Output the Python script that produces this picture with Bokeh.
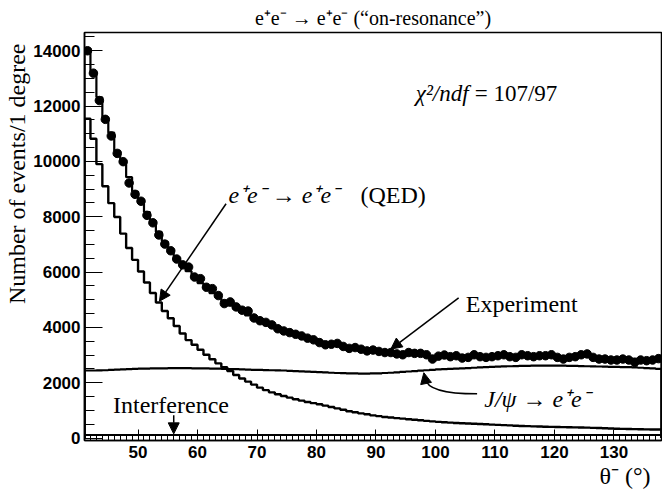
import numpy as np
from bokeh.plotting import figure
from bokeh.models import (Label, Arrow, NormalHead, SingleIntervalTicker, Range1d, Title)
from bokeh.embed import file_html
from bokeh.resources import INLINE

# ---------------- data ----------------
bin_lo = 41
bin_hi = 138

experiment = [
    14000, 13190, 12200, 11520, 10920, 10290, 9990, 9220, 8810, 8560,
    8050, 7780, 7340, 7010, 6770, 6470, 6260, 6180, 5820, 5760,
    5450, 5400, 5150, 4860, 4920, 4740, 4620, 4590, 4340, 4240,
    4180, 4090, 3950, 3870, 3810, 3750, 3690, 3610, 3550, 3450,
    3370, 3390, 3420, 3310, 3240, 3270, 3210, 3150, 3180, 3130,
    3090, 3090, 3040, 3010, 3090, 3060, 3060, 3010, 2855, 2960,
    3000, 2940, 2975, 2890, 2915, 3010, 2940, 2915, 2940, 2975,
    3010, 2940, 2915, 3010, 2975, 2940, 2975, 2975, 3010, 2915,
    2855, 2915, 2940, 3010, 3040, 2915, 2855, 2855, 2820, 2820,
    2855, 2820, 2735, 2820, 2795, 2820, 2870,
]

total_fit = [
    14090, 13210, 12320, 11580, 11040, 10380, 10020, 9430, 8910, 8630,
    8170, 7840, 7450, 7100, 6800, 6520, 6260, 6030, 5810, 5600,
    5420, 5240, 5080, 4930, 4790, 4660, 4540, 4430, 4320, 4220,
    4130, 4040, 3960, 3880, 3810, 3740, 3680, 3610, 3550, 3490,
    3440, 3390, 3340, 3300, 3260, 3220, 3180, 3150, 3120, 3090,
    3070, 3050, 3030, 3010, 3000, 2990, 2980, 2970, 2965, 2960,
    2955, 2950, 2950, 2945, 2945, 2945, 2945, 2945, 2950, 2950,
    2955, 2955, 2960, 2960, 2965, 2965, 2965, 2965, 2965, 2960,
    2960, 2955, 2950, 2945, 2940, 2930, 2920, 2910, 2900, 2890,
    2880, 2870, 2860, 2850, 2840, 2830, 2820,
]

qed = [
    11540, 10820, 9900, 9100, 8490, 7990, 7390, 6870, 6440, 6020,
    5620, 5240, 4900, 4590, 4330, 4050, 3780, 3540, 3370, 3190,
    3010, 2850, 2700, 2560, 2420, 2280, 2150, 2040, 1930, 1820,
    1730, 1650, 1580, 1520, 1460, 1400, 1350, 1300, 1260, 1220,
    1170, 1120, 1070, 1020, 970, 930, 890, 860, 820, 790,
    760, 740, 720, 700, 680, 660, 640, 620, 600, 585,
    570, 555, 545, 535, 525, 515, 505, 495, 485, 475,
    465, 455, 445, 435, 428, 421, 414, 408, 402, 397,
    392, 388, 384, 380, 375, 368, 360, 352, 344, 336,
    330, 325, 320, 316, 312, 308, 305,
]

jpsi = [
    2440, 2440, 2445, 2450, 2460, 2470, 2480, 2490, 2500, 2505,
    2510, 2515, 2520, 2520, 2525, 2525, 2525, 2525, 2520, 2520,
    2515, 2510, 2505, 2500, 2495, 2490, 2480, 2475, 2465, 2460,
    2455, 2450, 2445, 2440, 2430, 2420, 2410, 2400, 2390, 2380,
    2370, 2360, 2350, 2345, 2340, 2335, 2330, 2330, 2335, 2340,
    2350, 2360, 2375, 2390, 2405, 2420, 2435, 2450, 2465, 2480,
    2490, 2500, 2510, 2520, 2530, 2540, 2550, 2560, 2570, 2580,
    2590, 2595, 2600, 2605, 2610, 2615, 2620, 2620, 2620, 2620,
    2615, 2610, 2605, 2600, 2595, 2590, 2585, 2580, 2575, 2570,
    2565, 2560, 2550, 2540, 2530, 2520, 2500,
]

interference = [110] * 97

x_ticks_major = 10
y_ticks_major = 2000

# ---------------- helpers ----------------
edges = np.arange(bin_lo, bin_hi + 1)
centers = edges[:-1] + 0.5


def step_xy(vals):
    v = np.asarray(vals, dtype=float)
    xs = np.concatenate([[edges[0]], np.repeat(edges, 2)[1:-1], [edges[-1]]])
    ys = np.concatenate([[0.0], np.repeat(v, 2), [0.0]])
    return xs, ys


serif = "Liberation Serif"

p = figure(width=662, height=489, output_backend="svg", toolbar_location=None,
           x_range=Range1d(41, 138), y_range=Range1d(-90, 14660),
           min_border_left=83, min_border_right=1, min_border_top=29,
           min_border_bottom=49,
           title="e⁺e⁻ → e⁺e⁻ (“on-resonance”)")
p.title.text_font = serif
p.title.text_font_style = "normal"
p.title.text_font_size = "20px"
p.title.align = "center"
p.title.standoff = 8
p.title.text_color = "black"

p.background_fill_color = "white"
p.border_fill_color = "white"
p.outline_line_color = "black"
p.outline_line_width = 1.5
p.xgrid.visible = False
p.ygrid.visible = False

p.xaxis.ticker = SingleIntervalTicker(interval=x_ticks_major, num_minor_ticks=10)
p.yaxis.ticker = SingleIntervalTicker(interval=y_ticks_major, num_minor_ticks=4)
for ax in (p.xaxis, p.yaxis):
    ax.axis_line_color = "black"
    ax.axis_line_width = 1.5
    ax.major_tick_out = 0
    ax.minor_tick_out = 0
    ax.major_tick_line_color = "black"
    ax.minor_tick_line_color = "black"
    ax.major_label_text_font = "Liberation Sans"
    ax.major_label_text_font_style = "bold"
    ax.major_label_text_font_size = "17px"
    ax.major_label_text_color = "black"
p.xaxis.major_tick_in = 11
p.xaxis.minor_tick_in = 6
p.yaxis.major_tick_in = 18
p.yaxis.minor_tick_in = 10
p.xaxis.major_label_standoff = 5
p.yaxis.major_label_standoff = 4

# axis titles as side titles (aligned to the far end, like ROOT)
ytitle = Title(text="Number of events/1 degree", align="right", offset=11,
               text_font=serif, text_font_style="normal", text_font_size="24px",
               text_color="black", standoff=2)
p.add_layout(ytitle, "left")
xtitle = Title(text="θ⁻ (°)", align="right", offset=11,
               text_font=serif, text_font_style="normal", text_font_size="24px",
               text_color="black", standoff=0)
p.add_layout(xtitle, "below")

# histograms
for vals, lw in ((total_fit, 2.2), (qed, 2.4), (jpsi, 2.2), (interference, 2)):
    xs, ys = step_xy(vals)
    p.line(xs, ys, line_color="black", line_width=lw)

p.scatter(centers, experiment, marker="circle", size=8.5, color="black")


def lab(x, y, text, size="24px", style="normal", align="left", baseline="alphabetic"):
    p.add_layout(Label(x=x, y=y, text=text, text_font=serif, text_font_size=size,
                       text_font_style=style, text_align=align, text_baseline=baseline,
                       text_color="black"))


# chi2
lab(96.7, 12450, "χ²/ndf", size="23px", style="italic")
lab(106.6, 12450, "=  107/97", size="23px")
# QED label
lab(65.2, 8800, "e⁺e⁻ → e⁺e⁻", style="italic")
lab(87.4, 8800, "(QED)")
# Experiment
lab(105.1, 4850, "Experiment")
# J/psi
lab(108.2, 1400, "J/ψ → e⁺e⁻", style="italic")
# Interference
lab(45.8, 1200, "Interference")

head = lambda: NormalHead(size=11, fill_color="black", line_color="black")
p.add_layout(Arrow(end=head(), x_start=64.8, y_start=8470, x_end=53.6, y_end=4946,
                   line_width=1.5, line_color="black"))
p.add_layout(Arrow(end=head(), x_start=103.9, y_start=5065, x_end=92.5, y_end=3215,
                   line_width=1.5, line_color="black"))
p.add_layout(Arrow(end=head(), x_start=56.0, y_start=824, x_end=56.0, y_end=150,
                   line_width=1.5, line_color="black"))
# curved arrow for J/psi
p.bezier(x0=[107.0], y0=[1600], x1=[98.3], y1=[2150], cx0=[101.0], cy0=[1600],
         cx1=[98.5], cy1=[1790], line_color="black", line_width=1.5)
p.add_layout(Arrow(end=head(), x_start=98.3, y_start=2100, x_end=98.05, y_end=2360,
                   line_width=1.5, line_color="black"))

open("out.html", "w").write(file_html(p, INLINE))
